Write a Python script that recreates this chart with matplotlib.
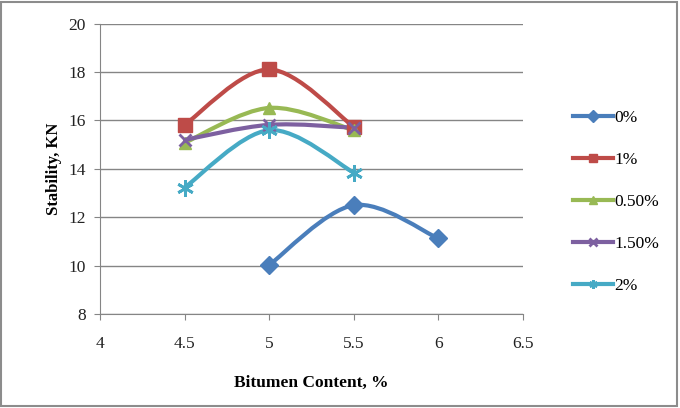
import numpy as np
import matplotlib.pyplot as plt
from matplotlib.path import Path
from matplotlib.patches import PathPatch
from matplotlib.lines import Line2D

plt.rcParams['font.family'] = ['Liberation Serif', 'DejaVu Serif']

# data
series_names = ['0%', '1%', '0.50%', '1.50%', '2%']
x_0 = [5, 5.5, 6]
y_0 = [10.03, 12.5, 11.13]
x_1 = [4.5, 5, 5.5]
y_1 = [15.82, 18.11, 15.74]
x_05 = [4.5, 5, 5.5]
y_05 = [15.08, 16.52, 15.6]
x_15 = [4.5, 5, 5.5]
y_15 = [15.2, 15.82, 15.7]
x_2 = [4.5, 5, 5.5]
y_2 = [13.23, 15.6, 13.85]

colors = ['#4A7EBB', '#BE4B48', '#98B954', '#7D60A0', '#46AAC5']
markers = ['D', 's', '^', 'x', (6, 2, 0)]
msizes = [9, 10, 9, 9, 12]


def smooth_path(xs, ys):
    # Excel-like smoothed line as cubic bezier segments
    pts = np.column_stack([xs, ys]).astype(float)
    n = len(pts)
    verts = [pts[0]]
    codes = [Path.MOVETO]
    for i in range(n - 1):
        p0 = pts[i - 1] if i > 0 else pts[i]
        p1 = pts[i]
        p2 = pts[i + 1]
        p3 = pts[i + 2] if i + 2 < n else pts[i + 1]
        c1 = p1 + (p2 - p0) / 6
        c2 = p2 - (p3 - p1) / 6
        verts += [c1, c2, p2]
        codes += [Path.CURVE4] * 3
    return Path(verts, codes)


fig = plt.figure(figsize=(6.8, 4.08), dpi=100)
ax = fig.add_axes([0.147, 0.23, 0.622, 0.712])

all_x = [x_0, x_1, x_05, x_15, x_2]
all_y = [y_0, y_1, y_05, y_15, y_2]
handles = []
for xs, ys, c, m, ms, name in zip(all_x, all_y, colors, markers, msizes, series_names):
    ax.add_patch(PathPatch(smooth_path(xs, ys), fill=False, edgecolor=c, lw=3, zorder=3))
    mew = 2 if m in ('x', (6, 2, 0)) else 1
    ax.plot(xs, ys, linestyle='none', marker=m, color=c, markersize=ms,
            markeredgewidth=mew, zorder=4)
    handles.append(Line2D([], [], color=c, lw=3, marker=m, markersize=6,
                          markeredgewidth=mew, label=name))

ax.set_xlim(4, 6.5)
ax.set_ylim(8, 20)
ax.set_xticks([4, 4.5, 5, 5.5, 6, 6.5])
ax.set_xticklabels(['4', '4.5', '5', '5.5', '6', '6.5'])
ax.set_yticks(range(8, 21, 2))
ax.yaxis.grid(True, color='#858585', lw=1)
ax.set_axisbelow(True)
for s in ['top', 'right']:
    ax.spines[s].set_visible(False)
for s in ['left', 'bottom']:
    ax.spines[s].set_color('#858585')
ax.tick_params(axis='both', colors='#858585', labelcolor='#222222', labelsize=12.5,
               length=4, direction='out')
ax.tick_params(axis='x', pad=12)
ax.tick_params(axis='y', pad=6)

ax.set_xlabel('Bitumen Content, %', fontsize=12.5, fontweight='bold', labelpad=16)
ax.set_ylabel('Stability, KN', fontsize=12, fontweight='bold', labelpad=5)

fig.legend(handles=handles, loc='center left', bbox_to_anchor=(0.82, 0.505),
           frameon=False, fontsize=12.5, handlelength=2.3, handletextpad=0.05,
           labelspacing=1.5)

fig.patches.append(plt.Rectangle((0.002, 0.004), 0.994, 0.992, transform=fig.transFigure,
                                 fill=False, edgecolor='#8C8C8C', lw=1.5))

fig.savefig('out.png', dpi=100)
